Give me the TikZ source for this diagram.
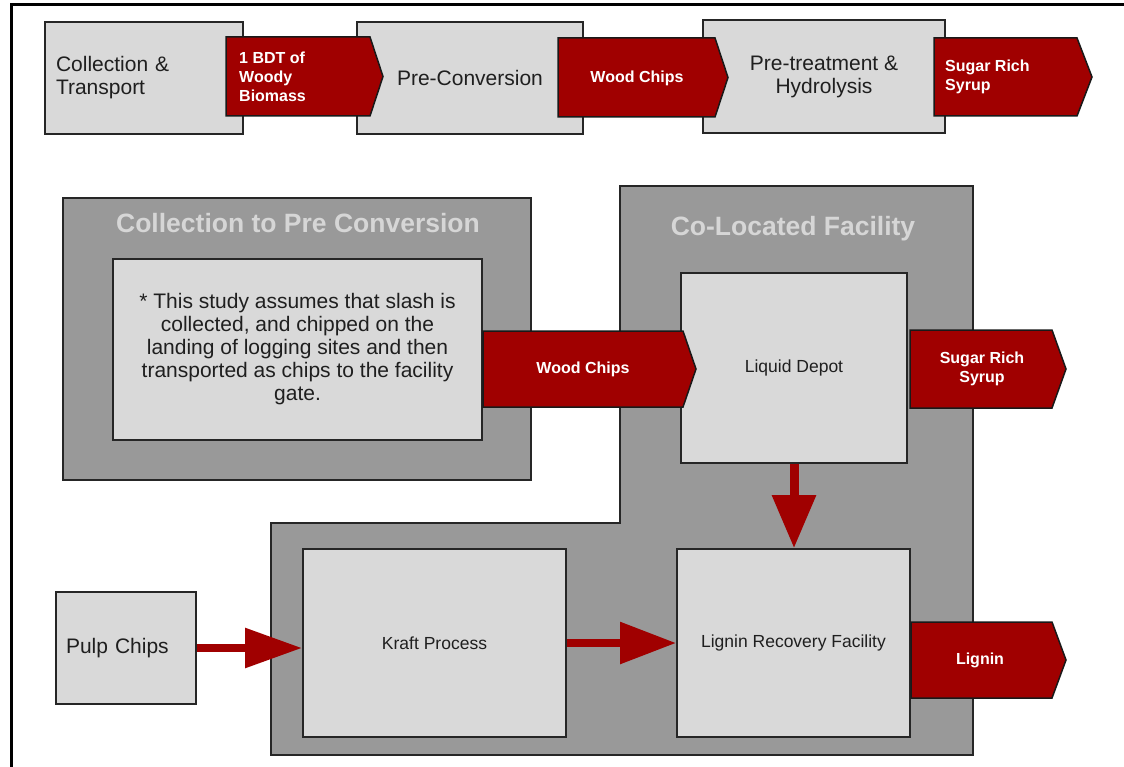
\documentclass[tikz,border=0pt]{standalone}
\usepackage{fontspec}
\setmainfont{Liberation Sans}
\usetikzlibrary{arrows.meta}
\definecolor{boxgray}{HTML}{D9D9D9}
\definecolor{outgray}{HTML}{999999}
\definecolor{dred}{HTML}{A00000}
\definecolor{edgec}{HTML}{262626}
\definecolor{ttl}{HTML}{D6D6D6}
\newcommand\chevshape[5]{% x0, xs, xt, ytop, ybot
  \path[chev] (#1,#4) -- (#2,#4) -- (#3,{(#4+#5)/2}) -- (#2,#5) -- (#1,#5) -- cycle;}
\begin{document}
\begin{tikzpicture}[x=1pt,y=-1pt,
  box/.style={draw=edgec, line width=1.6pt, fill=boxgray, inner sep=0pt, text=black!88},
  grp/.style={draw=edgec, line width=1.6pt, fill=outgray},
  chev/.style={draw=black!90, line width=1.5pt, fill=dred, line join=miter},
  lbl/.style={text=white, font=\fontsize{16}{19}\selectfont\bfseries, inner sep=0pt},
  bigtxt/.style={font=\fontsize{21}{23}\selectfont},
  smalltxt/.style={font=\fontsize{17.5}{21}\selectfont},
  ttltxt/.style={text=ttl, font=\fontsize{26.5}{30}\selectfont\bfseries, inner sep=0pt},
  flow/.style={draw=dred, fill=dred, line width=8.5pt}]
\useasboundingbox (0,0) rectangle (1124,767);
\clip (0,0) rectangle (1124,767);
\fill[white] (0,0) rectangle (1124,767);
% outer frame
\draw[line width=3pt] (11,790) -- (11,5) -- (1150,5);

% ---------- top row ----------
\node[box, bigtxt, minimum width=198pt, minimum height=112pt, text width=176pt, align=left]
  (ct) at (144,78) {Collection \&\\Transport};
\node[box, bigtxt, minimum width=226pt, minimum height=112pt] (pc) at (470,78) {Pre-Conversion};
\node[box, bigtxt, minimum width=242pt, minimum height=113pt, align=center] (pt) at (824,76.5) {Pre-treatment \&\\Hydrolysis};

\chevshape{226}{370}{383}{37}{116}
\node[lbl, anchor=west, align=left, font=\fontsize{16}{19}\selectfont\bfseries] (l1) at (239,77) {1 BDT of\\Woody\\Biomass};
\chevshape{558}{715}{728}{38}{117}
\node[lbl] (l2) at (637,78) {Wood Chips};
\chevshape{934}{1077}{1092}{38}{116}
\node[lbl, anchor=west, align=left, font=\fontsize{16}{18.5}\selectfont\bfseries] (l3) at (945,77) {Sugar Rich\\Syrup};

% ---------- collection to pre conversion ----------
\path[grp] (63,198) rectangle (531,480);
\node[ttltxt, anchor=base] (t1) at (298,233) {Collection to Pre Conversion};
\node[box, minimum width=369pt, minimum height=181pt, align=center, font=\fontsize{21}{23}\selectfont]
  (note) at (297.5,349.5) {* This study assumes that slash is\\collected, and chipped on the\\landing of logging sites and then\\transported as chips to the facility\\gate.};

% ---------- co-located facility ----------
\path[grp] (620,186) -- (973,186) -- (973,755) -- (271,755) -- (271,523) -- (620,523) -- cycle;
\node[ttltxt, anchor=base] (t2) at (793,236) {Co-Located Facility};
\node[box, smalltxt, minimum width=226pt, minimum height=190pt] (depot) at (794,368) {Liquid Depot};
\node[box, smalltxt, minimum width=263pt, minimum height=188pt] (kraft) at (434.5,643) {Kraft Process};
\node[box, smalltxt, minimum width=233pt, minimum height=188pt] (lrf) at (793.5,643) {Lignin Recovery Facility};
\node[box, bigtxt, minimum width=140pt, minimum height=112pt, text width=120pt, align=left] (pulp) at (126,648) {Pulp Chips};

% middle chevrons
\chevshape{483}{683}{696}{331}{407}
\node[lbl] (l4) at (583,369) {Wood Chips};
\chevshape{910}{1052}{1066}{330}{408}
\node[lbl, align=center, font=\fontsize{16}{19}\selectfont\bfseries] (l5) at (982,369) {Sugar Rich\\Syrup};
\chevshape{911}{1052}{1066}{622}{698}
\node[lbl] (l6) at (980,660) {Lignin};

% block arrows
\draw[flow, line width=9pt, -{Triangle[length=53pt,width=42pt]}] (depot.south) -- (depot.south |- lrf.north);
\draw[flow, -{Triangle[length=57pt,width=38pt]}] (pulp.east) -- (kraft.west |- pulp.east);
\draw[flow, -{Triangle[length=56pt,width=40pt]}] (kraft.east) -- (lrf.west);
\end{tikzpicture}
\end{document}
